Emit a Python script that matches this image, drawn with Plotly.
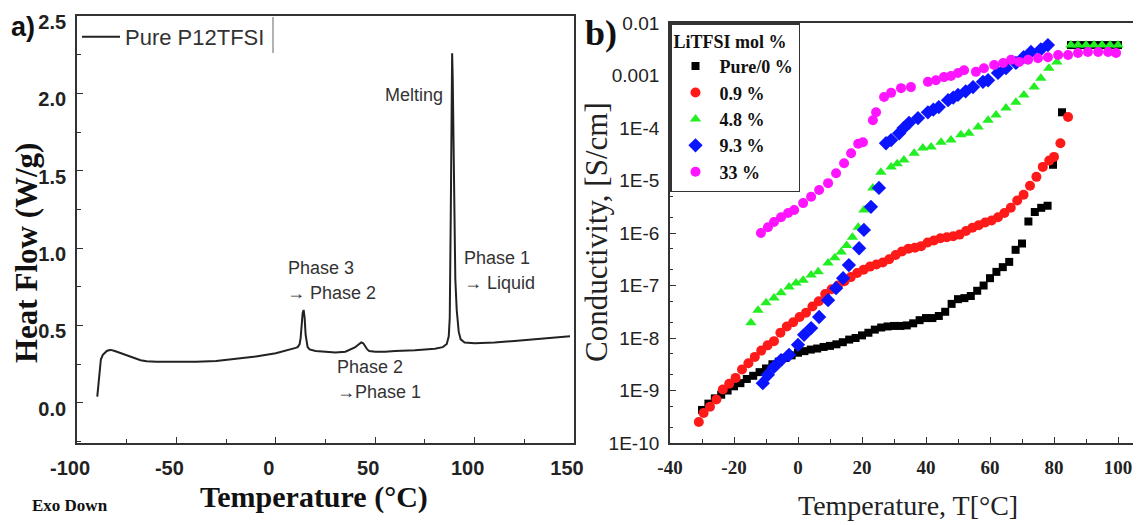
import numpy as np
import plotly.graph_objects as go

W, H = 1141, 525
# the page body adds an 8px margin around the plot div; compensate for it
OX, OY = 8, 8

# ---------------- Panel a) DSC data ----------------
dsc_T = [-89.8, -89.5, -89.0, -88.5, -88, -87, -86, -85, -84, -83, -81, -78, -75, -72, -68, -65,
         -60, -50, -40, -30, -20, -10, 0, 5, 8, 10, 11, 12, 12.5, 13, 13.5, 14, 14.5, 15, 15.5,
         16, 17, 18, 20, 25, 30, 35, 38, 40, 41, 42, 43, 44, 45, 46, 47, 50, 55, 60, 70, 80, 84,
         85, 86, 87, 87.5, 88, 88.4, 88.7, 89.0, 89.4, 89.8, 90.3, 91, 92, 93, 95, 100, 110,
         120, 130, 140, 148]
dsc_HF = [0.04, 0.08, 0.18, 0.24, 0.28, 0.31, 0.325, 0.335, 0.34, 0.342, 0.335, 0.32, 0.305,
          0.29, 0.275, 0.268, 0.265, 0.265, 0.265, 0.27, 0.285, 0.30, 0.32, 0.335, 0.345, 0.355,
          0.36, 0.38, 0.42, 0.50, 0.58, 0.60, 0.55, 0.44, 0.39, 0.36, 0.345, 0.34, 0.335, 0.33,
          0.325, 0.33, 0.345, 0.36, 0.37, 0.38, 0.39, 0.385, 0.36, 0.345, 0.335, 0.33, 0.33,
          0.335, 0.34, 0.35, 0.36, 0.37, 0.38, 0.43, 0.55, 1.2, 2.0, 2.26, 2.1, 1.6, 1.1, 0.8,
          0.6, 0.46, 0.41, 0.39, 0.385, 0.39, 0.40, 0.41, 0.42, 0.43]
x_ticks_a = [-100, -50, 0, 50, 100, 150]
x_ticktext_a = ["-100", "-50", "0", "50", "100", "150"]
y_ticks_a = [0, 0.5, 1.0, 1.5, 2.0, 2.5]
y_ticktext_a = ["0.0", "0.5", "1.0", "1.5", "2.0", "2.5"]

# ---------------- Panel b) conductivity data (log10 S/cm) ----------------
T_pure = [-30, -28, -26, -24, -22, -20, -18, -16, -14, -12, -10, -8, -6, -4, -2, 0,
          2, 4, 6, 8, 10, 12, 14, 16, 18, 20, 22, 24, 26, 28, 30, 32, 34, 36, 38, 40,
          42, 44, 46, 48, 50, 52, 54, 56, 58, 60, 62, 64, 66, 68, 70, 72, 74, 76, 78,
          79.7, 82.5, 85.3, 87.5, 90, 92.5, 95, 97.5, 100]
log_pure = [-9.37, -9.25, -9.15, -9.08, -9.0, -8.92, -8.86, -8.78, -8.72, -8.65, -8.58, -8.5,
            -8.45, -8.38, -8.33, -8.28,
            -8.25, -8.22, -8.2, -8.17, -8.15, -8.12, -8.08, -8.03, -8.0, -7.95, -7.9, -7.84,
            -7.8, -7.78, -7.77, -7.77, -7.76, -7.72, -7.66, -7.62, -7.62, -7.58, -7.5, -7.35,
            -7.26, -7.24, -7.2, -7.1, -7.0, -6.86, -6.74, -6.65, -6.55, -6.32, -6.2, -5.78,
            -5.6, -5.52, -5.48,
            -4.7, -3.7, -2.42, -2.42, -2.42, -2.42, -2.42, -2.42, -2.42]

T_09 = [-31, -29.5, -27.5, -25.5, -23.5, -21.5, -19.5, -17.5, -15.5, -13.5, -11.5, -9.5, -7.5,
        -5.5, -3.5, -1.5, 0.5, 2.5, 4.5, 6.5, 8.5, 10.5, 12.5, 14.5, 16.5, 18.5, 20.5, 22.5,
        24.5, 26.5, 28.5, 30.5, 32.5, 34.5, 36.5, 38.5, 40.5, 42.5, 44.5, 46.5, 48.5, 50.5,
        52.5, 54.5, 56.5, 58.5, 60.5, 62.5, 64.5, 66.5, 68.5, 70.5, 72.5, 74.5, 76.5, 78.5,
        80, 82, 84.4]
log_09 = [-9.6, -9.43, -9.31, -9.17, -8.98, -8.87, -8.76, -8.6, -8.48, -8.36, -8.24, -8.14,
          -8.06, -7.9, -7.78, -7.7, -7.6, -7.52, -7.4, -7.3, -7.16, -7.07, -7.0, -6.92, -6.84,
          -6.76, -6.7, -6.64, -6.6, -6.56, -6.5, -6.42, -6.35, -6.3, -6.28, -6.25, -6.18,
          -6.14, -6.1, -6.08, -6.06, -6.03, -5.96, -5.9, -5.85, -5.8, -5.76, -5.7, -5.62,
          -5.52, -5.38, -5.27, -5.1, -4.93, -4.74, -4.62, -4.55, -4.29, -3.79]

T_48 = [-14.7, -12.5, -10, -7.5, -5.3, -2.8, -0.6, 1.6, 4.1, 6.3, 9.4, 11.5, 13.5, 15.2, 17,
        18.8, 20.6, 23.4, 25.9, 29.1, 31, 33.1, 36.3, 39, 41.6, 44.7, 47.8, 50.9, 53.4, 56.3,
        59.4, 61.9, 65, 68.1, 70.6, 73.8, 75.9, 78.4, 80.9, 85.3, 87.5, 90, 92.5, 95, 97.5, 100]
log_48 = [-7.71, -7.47, -7.33, -7.24, -7.14, -7.03, -6.95, -6.9, -6.8, -6.74, -6.57, -6.47,
          -6.36, -6.24, -6.08, -5.89, -5.56, -5.14, -4.84, -4.74, -4.68, -4.61, -4.48, -4.38,
          -4.36, -4.27, -4.23, -4.13, -4.1, -3.98, -3.85, -3.75, -3.62, -3.51, -3.37, -3.22,
          -3.05, -2.86, -2.74, -2.42, -2.42, -2.42, -2.42, -2.42, -2.42, -2.42]

T_93 = [-11, -9.4, -7.5, -5.3, -2.8, 0, 1.9, 4.1, 6.6, 9.4, 11.9, 14.1, 15.9, 19.1, 20.6, 22.8,
        25.3, 27.5, 29.1, 31.6, 33, 34.7, 37.5, 40.6, 42.3, 44, 46.9, 48.5, 50, 52.4, 54.7,
        57.8, 59.4, 62.5, 65, 68.1, 70.5, 72.8, 75.9, 78.1]
log_93 = [-8.86, -8.70, -8.55, -8.42, -8.32, -8.13, -7.94, -7.81, -7.6, -7.28, -7.05, -6.86,
          -6.61, -6.29, -5.94, -5.5, -5.14, -4.29, -4.23, -4.1, -4.0, -3.9, -3.81, -3.7, -3.65,
          -3.6, -3.47, -3.42, -3.37, -3.3, -3.22, -3.12, -3.09, -2.95, -2.86, -2.76, -2.65,
          -2.55, -2.50, -2.42]

T_33 = [-11.6, -9.4, -7.5, -5.3, -3.1, -1.2, 1.6, 4.1, 6.6, 9.4, 11.9, 14.4, 16.6, 18.8, 20.3,
        23.4, 24.4, 26.9, 29.1, 32.2, 35.3, 40.6, 43.1, 45.6, 47.8, 50, 51.9, 55.6, 58.1, 61.3,
        64.1, 66.6, 69.1, 71.9, 75, 78.1, 81.3, 84.4, 87.5, 90.6, 93.8, 96.9, 99.4]
log_33 = [-6.0, -5.89, -5.79, -5.7, -5.62, -5.56, -5.43, -5.31, -5.18, -5.05, -4.86, -4.67,
          -4.48, -4.3, -4.27, -3.85, -3.7, -3.41, -3.33, -3.24, -3.22, -3.12, -3.09, -3.03,
          -3.01, -2.95, -2.9, -2.93, -2.86, -2.8, -2.76, -2.70, -2.74, -2.70, -2.67, -2.65,
          -2.61, -2.61, -2.57, -2.55, -2.55, -2.55, -2.57]

series_names = ["Pure/0 %", "0.9 %", "4.8 %", "9.3 %", "33 %"]
series_colors = ["#000000", "#ff1a1a", "#22ee22", "#0a14ff", "#ff14ff"]
series_symbols = ["square", "circle", "triangle-up", "diamond", "circle"]
series_sizes = [8, 10, 10, 11, 10]

x_ticks_b = [-40, -20, 0, 20, 40, 60, 80, 100]
x_ticktext_b = ["-40", "-20", "0", "20", "40", "60", "80", "100"]
y_ticks_b = [1e-10, 1e-9, 1e-8, 1e-7, 1e-6, 1e-5, 1e-4, 1e-3, 1e-2]
y_ticktext_b = ["1E-10", "1E-9", "1E-8", "1E-7", "1E-6", "1E-5", "1E-4", "0.001", "0.01"]


def px(x):
    return (x - OX) / W


def py(y):
    return 1 - (y - OY) / H


def bold(lst):
    return ["<b>%s</b>" % t for t in lst]


fig = go.Figure()

fig.add_trace(go.Scatter(x=dsc_T, y=dsc_HF, mode="lines", name="Pure P12TFSI",
                         line=dict(color="#222222", width=2), xaxis="x", yaxis="y",
                         legend="legend"))

all_T = [T_pure, T_09, T_48, T_93, T_33]
all_log = [log_pure, log_09, log_48, log_93, log_33]
for T, lg, nm, c, s, sz in zip(all_T, all_log, series_names, series_colors, series_symbols,
                               series_sizes):
    fig.add_trace(go.Scatter(x=T, y=10 ** np.array(lg), mode="markers", name=nm,
                             marker=dict(color=c, symbol=s, size=sz, line=dict(width=0)),
                             xaxis="x2", yaxis="y2", legend="legend2"))

axis_common = dict(showline=True, linecolor="#333333", linewidth=1.8, ticks="inside",
                   tickcolor="#333333", ticklen=6, tickwidth=1.3, showgrid=False,
                   zeroline=False, automargin=False, ticklabeloverflow="allow")

# right panel: left edge at 670 px, 3.2 px per degree, extends past the window edge
b_left = 670
b_right_div = W  # domain end (div px)
b_range_max = -40 + (b_right_div + OX - b_left) / 3.2

fig.update_layout(
    width=W, height=H,
    margin=dict(l=0, r=0, t=0, b=0, autoexpand=False),
    paper_bgcolor="white", plot_bgcolor="white",
    xaxis=dict(domain=[px(77), px(574)], range=[-100, 150], anchor="y", mirror=True,
               tickvals=x_ticks_a, ticktext=bold(x_ticktext_a),
               ticklabelstandoff=6, ticklabelshift=-7,
               minor=dict(ticks="inside", ticklen=4, dtick=25, tick0=0, tickcolor="#333333"),
               tickfont=dict(family="Liberation Sans", size=20, color="#222"),
               **axis_common),
    yaxis=dict(domain=[py(443), py(16)], range=[-0.26, 2.501], anchor="x", mirror=True,
               tickvals=y_ticks_a, ticktext=bold(y_ticktext_a), ticklabelstandoff=5,
               ticklabelshift=6,
               minor=dict(ticks="inside", ticklen=4, dtick=0.25, tick0=0, tickcolor="#333333"),
               tickfont=dict(family="Liberation Sans", size=20, color="#222"),
               **axis_common),
    xaxis2=dict(domain=[px(b_left), 1.0], range=[-40, b_range_max], anchor="y2", mirror=True,
                tickvals=x_ticks_b, ticktext=bold(x_ticktext_b), ticklabelstandoff=6,
                minor=dict(ticks="inside", ticklen=4, dtick=10, tick0=0, tickcolor="#333333"),
                tickfont=dict(family="Liberation Serif", size=19, color="#222"),
                **axis_common),
    yaxis2=dict(domain=[py(443), py(23)], type="log", range=[-10, -1.999], anchor="x2",
                mirror=False, tickvals=y_ticks_b, ticktext=y_ticktext_b, ticklabelstandoff=5,
                minor=dict(ticks="inside", ticklen=3, tickcolor="#333333"),
                tickfont=dict(family="Liberation Sans", size=19, color="#222"),
                **axis_common),
    legend=dict(x=px(77), y=py(16), xanchor="left", yanchor="top", itemwidth=38,
                bgcolor="rgba(0,0,0,0)", borderwidth=0,
                font=dict(family="Liberation Sans", size=22, color="#333")),
    legend2=dict(x=px(670), y=py(23), xanchor="left", yanchor="top", bgcolor="white",
                 bordercolor="#333333", borderwidth=1.5, tracegroupgap=0, itemwidth=38,
                 font=dict(family="Liberation Serif", size=18, color="#111", weight="bold"),
                 title=dict(text="<b>LiTFSI mol %</b>",
                            font=dict(family="Liberation Serif", size=18, color="#111"))),
    showlegend=True,
)

fig.add_shape(type="line", xref="paper", yref="paper", x0=px(273), x1=px(273),
              y0=py(17), y1=py(53), line=dict(color="#999999", width=1.5))


def ann(text, x, y, size, family="Liberation Sans", is_bold=False, xanchor="left",
        angle=0, color="#222"):
    fig.add_annotation(text="<b>%s</b>" % text if is_bold else text, x=px(x), y=py(y),
                       xref="paper", yref="paper",
                       xanchor=xanchor, yanchor="middle", showarrow=False, textangle=angle,
                       font=dict(family=family, size=size, color=color))


ann("a)", 9, 27, 27, is_bold=True, color="#111")
ann("b)", 583, 33, 36, family="Liberation Serif", is_bold=True, color="#111")
ann("Heat Flow (W/g)", 26, 253, 31, family="Liberation Serif", is_bold=True,
    xanchor="center", angle=-90, color="#111")
ann("Temperature (°C)", 314, 497, 30, family="Liberation Serif", is_bold=True,
    xanchor="center", color="#111")
ann("Exo Down", 30, 505, 17, family="Liberation Serif", is_bold=True, color="#111")
ann("Melting", 383, 95, 18, color="#333")
ann("Phase 3", 286, 268, 18, color="#333")
ann("→ Phase 2", 285, 293, 18, color="#333")
ann("Phase 1", 462, 258, 18, color="#333")
ann("→ Liquid", 462, 283, 18, color="#333")
ann("Phase 2", 335, 367, 18, color="#333")
ann("→Phase 1", 335, 392, 18, color="#333")
ann("Conductivity, [S/cm]", 596, 232, 31, family="Liberation Serif", xanchor="center",
    angle=-90, color="#222")
ann("Temperature, T[°C]", 908, 505, 28, family="Liberation Serif", xanchor="center",
    color="#222")

fig.write_html("out.html")
